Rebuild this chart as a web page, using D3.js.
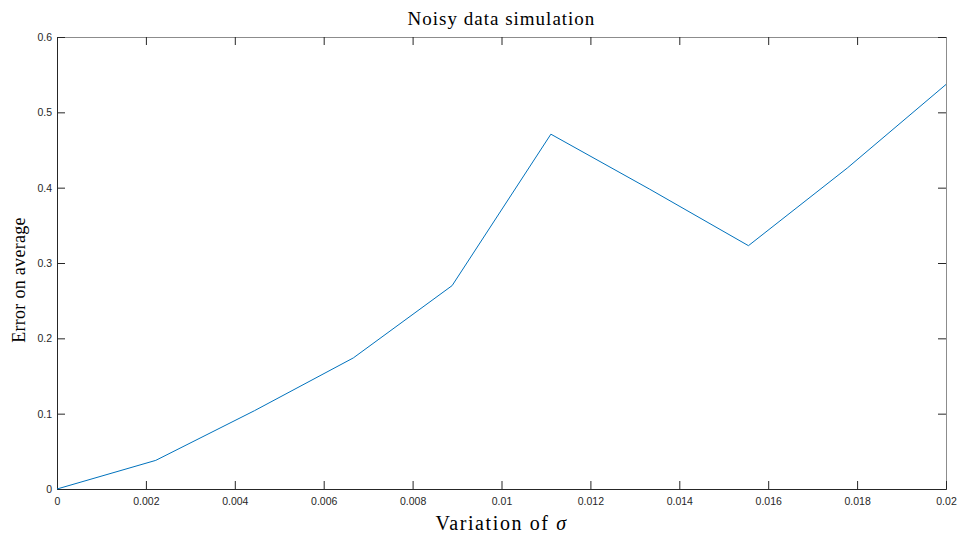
<!DOCTYPE html>
<html>
<head>
<meta charset="utf-8">
<script src="https://cdn.jsdelivr.net/npm/d3@7"></script>
<style>
  body { margin: 0; background: #fff; }
  svg { display: block; }
</style>
</head>
<body>
<svg id="chart" width="957" height="536"></svg>
<script>
// values
var sigma = [0, 0.02 / 9, 0.04 / 9, 0.06 / 9, 0.08 / 9, 0.10 / 9, 0.12 / 9, 0.14 / 9, 0.16 / 9, 0.02];
var errorAvg = [0, 0.038, 0.104, 0.174, 0.270, 0.471, 0.398, 0.323, 0.426, 0.537];
var xTicks = [0, 0.002, 0.004, 0.006, 0.008, 0.01, 0.012, 0.014, 0.016, 0.018, 0.02];
var yTicks = [0, 0.1, 0.2, 0.3, 0.4, 0.5, 0.6];

var svg = d3.select("#chart"),
    MARGINS = { top: 37, right: 11, bottom: 47, left: 57 },
    WIDTH = 957,
    HEIGHT = 536;

var xScale = d3.scaleLinear().domain([0, 0.02]).range([MARGINS.left, WIDTH - MARGINS.right]),
    yScale = d3.scaleLinear().domain([0, 0.6]).range([HEIGHT - MARGINS.bottom, MARGINS.top]);

var fmt = function(d) { return d3.format("")(+d.toFixed(4)); };
var tickCol = "#262626";

// box: top and right edges (lighter)
svg.append("g")
    .attr("transform", "translate(0," + MARGINS.top + ")")
    .call(d3.axisBottom(xScale).tickValues(xTicks).tickSize(8).tickFormat(""))
    .call(g => g.select(".domain").attr("stroke", "#8c8c8c"))
    .call(g => g.selectAll(".tick line").attr("stroke", tickCol));
svg.append("g")
    .attr("transform", "translate(" + (WIDTH - MARGINS.right) + ",0)")
    .call(d3.axisLeft(yScale).tickValues(yTicks).tickSize(8).tickFormat(""))
    .call(g => g.select(".domain").attr("stroke", "#8c8c8c"))
    .call(g => g.selectAll(".tick line").attr("stroke", tickCol));

// bottom axis, inward ticks
svg.append("g")
    .attr("class", "x axis")
    .attr("transform", "translate(0," + (HEIGHT - MARGINS.bottom) + ")")
    .call(d3.axisTop(xScale).tickValues(xTicks).tickSize(8).tickFormat(fmt))
    .call(g => g.select(".domain").attr("stroke", tickCol))
    .call(g => g.selectAll(".tick line").attr("stroke", tickCol))
    .call(g => g.selectAll(".tick text")
        .attr("y", 16).attr("dy", 0)
        .attr("fill", tickCol)
        .style("font-family", "'Liberation Sans', Arial, sans-serif")
        .style("font-size", "10.5px"));

// left axis, inward ticks
svg.append("g")
    .attr("class", "y axis")
    .attr("transform", "translate(" + MARGINS.left + ",0)")
    .call(d3.axisRight(yScale).tickValues(yTicks).tickSize(8).tickFormat(fmt))
    .call(g => g.select(".domain").attr("stroke", tickCol))
    .call(g => g.selectAll(".tick line").attr("stroke", tickCol))
    .call(g => g.selectAll(".tick text")
        .attr("x", -5).attr("text-anchor", "end")
        .attr("fill", tickCol)
        .style("font-family", "'Liberation Sans', Arial, sans-serif")
        .style("font-size", "10.5px"));

var lineGen = d3.line()
    .x(function(d, i) { return xScale(sigma[i]); })
    .y(function(d) { return yScale(d); });

svg.append("path")
    .attr("d", lineGen(errorAvg))
    .attr("stroke", "#0072bd")
    .attr("stroke-width", 1)
    .attr("fill", "none");

var serif = "'Liberation Serif', 'DejaVu Serif', serif";

svg.append("text")
    .attr("x", (MARGINS.left + WIDTH - MARGINS.right) / 2)
    .attr("y", 25)
    .attr("text-anchor", "middle")
    .attr("fill", "#000")
    .style("font-family", serif)
    .style("font-size", "19px")
    .style("letter-spacing", "1px")
    .text("Noisy data simulation");

var xl = svg.append("text")
    .attr("x", (MARGINS.left + WIDTH - MARGINS.right) / 2)
    .attr("y", 530)
    .attr("text-anchor", "middle")
    .attr("fill", "#000")
    .style("font-family", serif)
    .style("font-size", "20px")
    .style("letter-spacing", "1.6px");
xl.append("tspan").text("Variation of ");
xl.append("tspan").style("font-style", "italic").text("σ");

svg.append("text")
    .attr("transform", "translate(25,280) rotate(-90)")
    .attr("text-anchor", "middle")
    .attr("fill", "#000")
    .style("font-family", serif)
    .style("font-size", "18px")
    .style("letter-spacing", "0.3px")
    .text("Error on average");
</script>
</body>
</html>
